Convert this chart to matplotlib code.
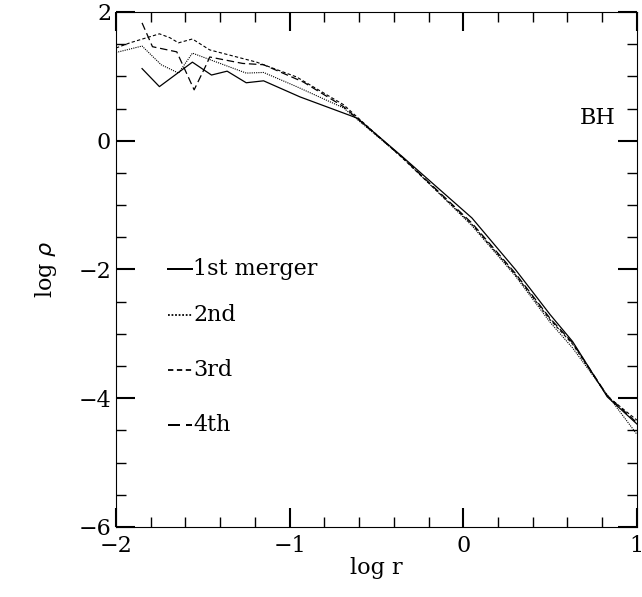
import matplotlib
matplotlib.use("Agg")
import matplotlib.pyplot as plt
from matplotlib.ticker import MultipleLocator

tail_x = [-0.6, -0.35, 0.05, 0.3, 0.5, 0.63, 0.83, 1.0]
first_x = [-1.85, -1.75, -1.56, -1.45, -1.36, -1.25, -1.15, -0.94, -0.61] + tail_x[1:]
first_y = [1.12, 0.84, 1.22, 1.02, 1.08, 0.90, 0.93, 0.68, 0.35, -0.25, -1.20, -2.00, -2.70, -3.12, -3.98, -4.40]
second_x = [-2.0, -1.85, -1.74, -1.64, -1.56, -1.45, -1.25, -1.15, -0.96, -0.69] + tail_x[1:]
second_y = [1.37, 1.47, 1.18, 1.05, 1.36, 1.25, 1.05, 1.06, 0.84, 0.51, -0.26, -1.32, -2.10, -2.82, -3.22, -3.95, -4.56]
third_x = [-2.0, -1.92, -1.75, -1.69, -1.64, -1.56, -1.46, -1.19, -0.96, -0.69] + tail_x[1:]
third_y = [1.44, 1.52, 1.66, 1.60, 1.52, 1.58, 1.41, 1.22, 0.99, 0.56, -0.27, -1.30, -2.08, -2.78, -3.16, -3.97, -4.34]
fourth_x = [-1.85, -1.79, -1.65, -1.55, -1.48, -1.46, -1.27, -1.15, -0.92, -0.69] + tail_x[1:]
fourth_y = [1.83, 1.46, 1.38, 0.79, 1.18, 1.30, 1.20, 1.18, 0.91, 0.53, -0.26, -1.28, -2.06, -2.76, -3.14, -3.96, -4.38]
labels = ["1st merger", "2nd", "3rd", "4th"]
legend_y = [-2.0, -2.7, -3.56, -4.41]

plt.rcParams["font.family"] = "DejaVu Serif"
fig = plt.figure(figsize=(6.42, 5.97), dpi=100)
ax = fig.add_axes([0.1807, 0.1173, 0.8113, 0.8627])
styles = [dict(ls="-", lw=0.9), dict(ls=(0, (1, 1)), lw=0.8),
          dict(ls=(0, (3, 2)), lw=0.8), dict(ls=(0, (6, 3)), lw=0.9)]
series = [(first_x, first_y), (second_x, second_y), (third_x, third_y), (fourth_x, fourth_y)]
for (xs, ys), st, lab, ly in zip(series, styles, labels, legend_y):
    ax.plot(xs, ys, color="black", **st)
    ax.plot([-1.70, -1.56], [ly, ly], color="black", **{**st, "lw": st["lw"] * 1.6})
    ax.text(-1.555, ly, lab, fontsize=16, va="center", ha="left")
ax.text(0.88, 0.35, "BH", fontsize=16, ha="right", va="center")
ax.set_xlim(-2, 1)
ax.set_ylim(-6, 2)
ax.xaxis.set_major_locator(MultipleLocator(1))
ax.xaxis.set_minor_locator(MultipleLocator(0.2))
ax.yaxis.set_major_locator(MultipleLocator(2))
ax.yaxis.set_minor_locator(MultipleLocator(0.5))
ax.tick_params(which="both", direction="in", top=True, right=True, labelsize=16)
ax.tick_params(axis="x", which="both", pad=6)
ax.tick_params(which="major", length=14, width=1.5)
ax.tick_params(which="minor", length=7, width=1)
ax.xaxis.set_major_formatter(plt.FuncFormatter(lambda v, p: f"{v:g}".replace("-", "\u2212")))
ax.yaxis.set_major_formatter(plt.FuncFormatter(lambda v, p: f"{v:g}".replace("-", "\u2212")))
ax.set_xlabel("log r", fontsize=16, labelpad=0)
ax.set_ylabel(r"log $\rho$", fontsize=16, labelpad=14)
fig.savefig("out.png", dpi=100)
